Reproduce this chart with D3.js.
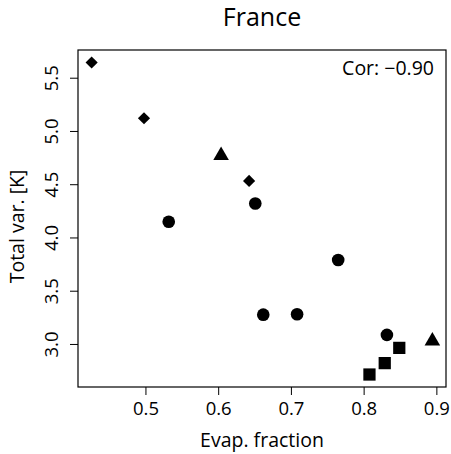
<!DOCTYPE html>
<html>
<head>
<meta charset="utf-8">
<script src="https://cdn.jsdelivr.net/npm/d3@7"></script>
<style>
  html, body { margin: 0; padding: 0; background: #fff; }
  svg { display: block; }
  text { font-family: "Open Sans", "Noto Sans", sans-serif; fill: #000; }
</style>
</head>
<body>
<div id="chart"></div>
<script>
// ---- data ----
const chartTitle = "France";
const xLabel = "Evap. fraction";
const yLabel = "Total var. [K]";
const corLabel = "Cor: \u22120.90";
const evapFraction = [0.426, 0.498, 0.6425, 0.604, 0.8945, 0.532, 0.651, 0.765, 0.662, 0.7085, 0.832, 0.808, 0.829, 0.849];
const totalVar     = [5.643, 5.119, 4.531, 4.770, 3.027, 4.147, 4.319, 3.788, 3.275, 3.279, 3.085, 2.713, 2.820, 2.963];
const shapeGroup   = ["diamond", "diamond", "diamond", "triangle", "triangle", "circle", "circle", "circle", "circle", "circle", "circle", "square", "square", "square"];
const xTicks = [0.5, 0.6, 0.7, 0.8, 0.9];
const yTicks = [3.0, 3.5, 4.0, 4.5, 5.0, 5.5];

// ---- layout ----
const W = 451, H = 454;
const plot = { left: 78, top: 50, right: 446, bottom: 387 };

const svg = d3.select("#chart").append("svg").attr("width", W).attr("height", H);

// R-style 4% axis extension
function rRange(vals) {
  const [a, b] = d3.extent(vals);
  const d = (b - a) * 0.04;
  return [a - d, b + d];
}
const x = d3.scaleLinear().domain(rRange(evapFraction)).range([plot.left, plot.right]);
const y = d3.scaleLinear().domain(rRange(totalVar)).range([plot.bottom, plot.top]);

// diamond symbol (square rotated 45deg)
const symbolRDiamond = {
  draw(ctx, size) {
    const r = Math.sqrt(size / 2);
    ctx.moveTo(0, -r); ctx.lineTo(r, 0); ctx.lineTo(0, r); ctx.lineTo(-r, 0); ctx.closePath();
  }
};
const symType = { circle: d3.symbolCircle, square: d3.symbolSquare, triangle: d3.symbolTriangle, diamond: symbolRDiamond };
const symSize = { circle: 125, square: 150, triangle: 105, diamond: 74 };

// axes
const xAxis = d3.axisBottom(x).tickValues(xTicks).tickFormat(d3.format(".1f")).tickSizeInner(8).tickSizeOuter(0);
const gx = svg.append("g").attr("transform", `translate(0,${plot.bottom})`).call(xAxis);
gx.select(".domain").remove();
gx.selectAll(".tick line").attr("stroke", "#000").attr("stroke-width", 1);
gx.selectAll(".tick text").attr("y", 28).attr("dy", null).attr("font-size", 18.5).attr("fill", "#000");

const yAxis = d3.axisLeft(y).tickValues(yTicks).tickFormat(d3.format(".1f")).tickSizeInner(8).tickSizeOuter(0);
const gy = svg.append("g").attr("transform", `translate(${plot.left},0)`).call(yAxis);
gy.select(".domain").remove();
gy.selectAll(".tick line").attr("stroke", "#000").attr("stroke-width", 1);
gy.selectAll(".tick text")
  .attr("x", 0).attr("y", -20).attr("dy", null)
  .attr("transform", "rotate(-90)")
  .attr("text-anchor", "middle")
  .attr("font-size", 18.5).attr("fill", "#000");

// frame
svg.append("rect")
  .attr("x", plot.left).attr("y", plot.top)
  .attr("width", plot.right - plot.left).attr("height", plot.bottom - plot.top)
  .attr("fill", "none").attr("stroke", "#000").attr("stroke-width", 1.2);

// points
const pts = evapFraction.map((v, i) => ({ x: v, y: totalVar[i], g: shapeGroup[i] }));
svg.append("g").selectAll("path").data(pts).join("path")
  .attr("transform", d => `translate(${x(d.x)},${y(d.y)})`)
  .attr("d", d => d3.symbol().type(symType[d.g]).size(symSize[d.g])())
  .attr("fill", "#000");

// texts
svg.append("text").attr("x", (plot.left + plot.right) / 2).attr("y", 26)
  .attr("text-anchor", "middle").attr("font-size", 25).text(chartTitle);
svg.append("text").attr("x", 434).attr("y", 75)
  .attr("text-anchor", "end").attr("font-size", 19.5).text(corLabel);
svg.append("text").attr("x", (plot.left + plot.right) / 2).attr("y", 447)
  .attr("text-anchor", "middle").attr("font-size", 19.5).text(xLabel);
svg.append("text").attr("transform", `translate(24,${(plot.top + plot.bottom) / 2 + 8}) rotate(-90)`)
  .attr("text-anchor", "middle").attr("font-size", 19.5).text(yLabel);
</script>
</body>
</html>
